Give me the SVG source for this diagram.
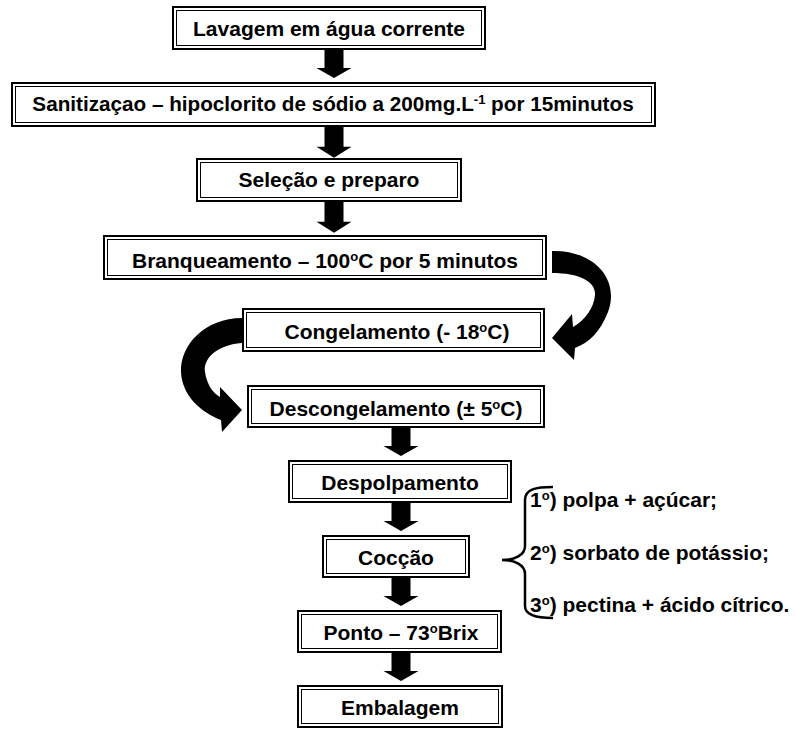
<svg xmlns="http://www.w3.org/2000/svg" width="795" height="729" viewBox="0 0 795 729">
<defs>
<style>
.o{fill:#fff;stroke:#000;stroke-width:2}
.i{fill:none;stroke:#000;stroke-width:1}
.t{font-family:"Liberation Sans",Arial,sans-serif;font-weight:bold;font-size:21px;fill:#000;text-anchor:middle}
.s{font-family:"Liberation Sans",Arial,sans-serif;font-weight:bold;font-size:21px;fill:#000}
.a{fill:#000;stroke:none}
</style>
<path id="arr" d="M-9.5,0 H9.5 V18 H17.5 L0,28 L-17.5,18 H-9.5 Z"/>
</defs>
<rect width="795" height="729" fill="#fff"/>
<g id="connectors">
<use href="#arr" class="a" transform="translate(334,50)"/>
<use href="#arr" class="a" transform="translate(334,127) scale(1,1.1)"/>
<use href="#arr" class="a" transform="translate(334,202) scale(1,1.1)"/>
<use href="#arr" class="a" transform="translate(401,428)"/>
<use href="#arr" class="a" transform="translate(401,503)"/>
<use href="#arr" class="a" transform="translate(401,578)"/>
<use href="#arr" class="a" transform="translate(401,653)"/>
<path class="a" d="M552,251 C595,250 620,280 608,312 C600,332 590,342 575,348 L574,360 L552,338 L572,314 L573,327 C585,320 594,308 595,295 C596,282 580,273 552,273 Z"/>
<path class="a" d="M242,318 L242,343 C215,345 203,360 205,372 C207,385 213,393 220,397 L220,387 L242,410 L222,432 L221,420 C200,412 182,395 181,372 C180,345 205,318 242,318 Z"/>
<path d="M553,487 C536,487 525,489 525,500 L525,546 C525,555 515,560 502,560 C515,560 525,565 525,574 L525,606 C525,615 536,618 553,618" fill="none" stroke="#000" stroke-width="2.5"/>
</g>
<g id="n1"><rect class="o" x="173" y="7" width="312" height="42"/><rect class="i" x="176.5" y="10.5" width="305" height="35"/><text class="t" x="329" y="36">Lavagem em água corrente</text></g>
<g id="n2"><rect class="o" x="12" y="83" width="643" height="43"/><rect class="i" x="15.5" y="86.5" width="636" height="36"/><text class="t" x="333" y="111" style="font-size:20.7px">Sanitizaçao – hipoclorito de sódio a 200mg.L<tspan dy="-7" font-size="13">-1</tspan><tspan dy="7"> por 15minutos</tspan></text></g>
<g id="n3"><rect class="o" x="197" y="159" width="264" height="42"/><rect class="i" x="200.5" y="162.5" width="257" height="35"/><text class="t" x="329" y="187">Seleção e preparo</text></g>
<g id="n4"><rect class="o" x="104" y="236" width="442" height="43"/><rect class="i" x="107.5" y="239.5" width="435" height="36"/><text class="t" x="325" y="268">Branqueamento – 100<tspan dy="-7" font-size="13">o</tspan><tspan dy="7">C por 5 minutos</tspan></text></g>
<g id="n5"><rect class="o" x="243" y="309" width="301" height="42"/><rect class="i" x="246.5" y="312.5" width="294" height="35"/><text class="t" x="397" y="339">Congelamento (- 18<tspan dy="-7" font-size="13">o</tspan><tspan dy="7">C)</tspan></text></g>
<g id="n6"><rect class="o" x="248" y="386" width="296" height="41"/><rect class="i" x="251.5" y="389.5" width="289" height="34"/><text class="t" x="396" y="416">Descongelamento (± 5<tspan dy="-7" font-size="13">o</tspan><tspan dy="7">C)</tspan></text></g>
<g id="n7"><rect class="o" x="289" y="461" width="222" height="41"/><rect class="i" x="292.5" y="464.5" width="215" height="34"/><text class="t" x="400" y="490">Despolpamento</text></g>
<g id="n8"><rect class="o" x="323" y="536" width="146" height="41"/><rect class="i" x="326.5" y="539.5" width="139" height="34"/><text class="t" x="396" y="565">Cocção</text></g>
<g id="n9"><rect class="o" x="298" y="611" width="203" height="41"/><rect class="i" x="301.5" y="614.5" width="196" height="34"/><text class="t" x="401" y="640">Ponto – 73<tspan dy="-7" font-size="13">o</tspan><tspan dy="7">Brix</tspan></text></g>
<g id="n10"><rect class="o" x="298" y="686" width="204" height="41"/><rect class="i" x="301.5" y="689.5" width="197" height="34"/><text class="t" x="400" y="715">Embalagem</text></g>
<g id="notes">
<text class="s" x="530" y="507">1<tspan dy="-7" font-size="13">o</tspan><tspan dy="7">) polpa + açúcar;</tspan></text>
<text class="s" x="530" y="560">2<tspan dy="-7" font-size="13">o</tspan><tspan dy="7">) sorbato de potássio;</tspan></text>
<text class="s" x="530" y="612">3<tspan dy="-7" font-size="13">o</tspan><tspan dy="7">) pectina + ácido cítrico.</tspan></text>
</g>
</svg>
